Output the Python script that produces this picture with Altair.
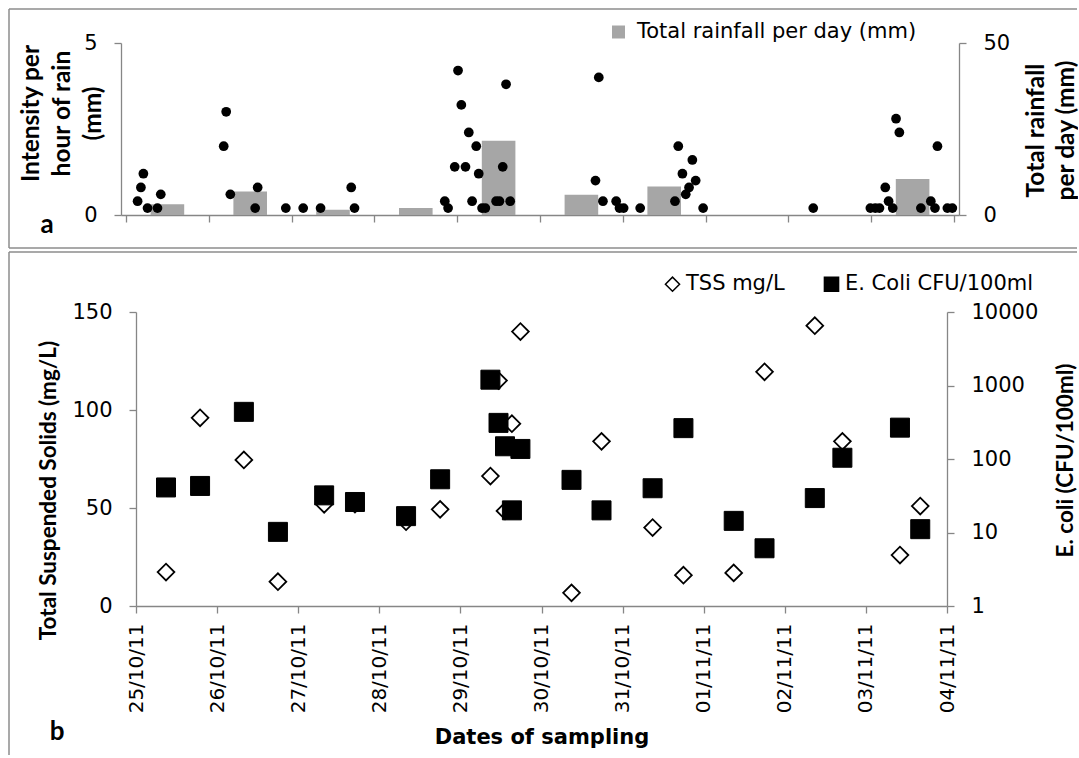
import json
import altair as alt
import pandas as pd

# ---------------- data ----------------
day_ticks = list(range(11))  # days counted from 25/10/11 00:00
date_labels = ["25/10/11", "26/10/11", "27/10/11", "28/10/11", "29/10/11", "30/10/11",
               "31/10/11", "01/11/11", "02/11/11", "03/11/11", "04/11/11"]

# total rainfall per day (bars drawn at the middle of each day)
rain_days = [0, 1, 2, 3, 4, 5, 6, 7, 8, 9]
rain_total_mm = [3.1, 6.8, 1.5, 2.0, 21.6, 5.9, 8.3, 0.0, 0.0, 10.5]

# hourly rain intensity (time in days since 25/10/11 00:00)
rain_time = [0.14, 0.18, 0.21, 0.26, 0.38, 0.42, 1.18, 1.21, 1.26, 1.56, 1.59,
             1.93, 2.14, 2.35, 2.72, 2.76, 3.85, 3.89, 3.97, 4.01, 4.05, 4.10,
             4.14, 4.18, 4.23, 4.26, 4.30, 4.34, 4.47, 4.51, 4.55, 4.59, 4.64,
             5.67, 5.71, 5.76, 5.92, 5.96, 6.01, 6.21, 6.63, 6.67, 6.72, 6.76,
             6.80, 6.84, 6.88, 6.97, 8.30, 8.99, 9.05, 9.10, 9.17, 9.21, 9.26,
             9.30, 9.34, 9.60, 9.72, 9.77, 9.80, 9.92, 9.98]
rain_int = [0.4, 0.8, 1.2, 0.2, 0.2, 0.6, 2.0, 3.0, 0.6, 0.2, 0.8,
            0.2, 0.2, 0.2, 0.8, 0.2, 0.4, 0.2, 1.4, 4.2, 3.2, 1.4,
            2.4, 0.4, 2.0, 1.2, 0.2, 0.2, 0.4, 0.4, 1.4, 3.8, 0.4,
            1.0, 4.0, 0.4, 0.4, 0.2, 0.2, 0.2, 0.4, 2.0, 1.2, 0.6,
            0.8, 1.6, 1.0, 0.2, 0.2, 0.2, 0.2, 0.2, 0.8, 0.4, 0.2,
            2.8, 2.4, 0.2, 0.4, 0.2, 2.0, 0.2, 0.2]

# water samples
sample_time = [0.37, 0.79, 1.33, 1.75, 2.32, 2.70, 3.33, 3.75, 4.37, 4.47, 4.55,
               4.635, 4.74, 5.37, 5.74, 6.37, 6.75, 7.37, 7.75, 8.37, 8.71, 9.42, 9.67]
tss_mgL = [17.3, 96, 74.5, 12.4, 51.9, 52, 43, 49.3, 66.3, 115, 48.5,
           93, 140, 6.7, 84, 40, 15.7, 16.9, 119.5, 143, 84, 26, 51]
ecoli_cfu = [41, 43, 438, 10.2, 32, 26, 16.7, 53, 1200, 310, 149,
             20, 137, 52, 20, 40, 263, 14.4, 6.1, 29.4, 104, 267, 11.1]

LEG_RAIN = "Total rainfall per day (mm)"
LEG_TSS = "TSS mg/L"
LEG_EC = "E. Coli CFU/100ml"

# ---------------- style ----------------
FONT = "DejaVu Sans"
TFONT = "Lato"
TSIZE_A = 24.5
TSIZE_B = 22.5
AX = "#868686"
BORDER = "#8c8c8c"
BAR = "#a6a6a6"
W1, H1 = 838, 172
W2, H2 = 826, 294

df_bar = pd.DataFrame({"t": [d + 0.5 for d in rain_days], "total": rain_total_mm, "series": LEG_RAIN})
df_dot = pd.DataFrame({"t": rain_time, "i": rain_int})
df_tss = pd.DataFrame({"t": sample_time, "v": tss_mgL, "series": LEG_TSS})
df_ec = pd.DataFrame({"t": sample_time, "v": ecoli_cfu, "series": LEG_EC})
one = pd.DataFrame({"k": [0]})


def hrule(y, x1, x2):
    return alt.Chart(one).mark_rule(color=BORDER, strokeWidth=1.5).encode(
        x=alt.value(x1), x2=alt.value(x2), y=alt.value(y))


def vrule(x, y1, y2):
    return alt.Chart(one).mark_rule(color=BORDER, strokeWidth=1.5).encode(
        x=alt.value(x), y=alt.value(y1), y2=alt.value(y2))


def label(txt, x, y):
    return alt.Chart(one).mark_text(text=txt, font=TFONT, fontSize=26, fontWeight="bold",
                                    align="center", baseline="alphabetic").encode(
        x=alt.value(x), y=alt.value(y))


# ---------------- panel a ----------------
x_top = alt.X("t:Q", scale=alt.Scale(domain=[0, 10], nice=False, zero=False),
              axis=alt.Axis(values=day_ticks, labels=False, title=None, grid=False, tickSize=7))

bars = alt.Chart(df_bar).mark_bar(size=33.6).encode(
    x=x_top,
    y=alt.Y("total:Q", scale=alt.Scale(domain=[0, 50], nice=False),
            axis=alt.Axis(orient="right", values=[0, 50], grid=False, tickSize=7, labelPadding=17,
                          title=["Total rainfall", "per day (mm)"], titleAngle=270,
                          titleBaseline="alphabetic", titleAlign="center", titleX=84, titleY=87,
                          titleLineHeight=30, titleFont=TFONT, titleFontSize=TSIZE_A,
                          titleFontWeight="bold")),
    color=alt.Color("series:N", scale=alt.Scale(domain=[LEG_RAIN], range=[BAR]),
                    legend=alt.Legend(title=None, orient="none", legendX=487, legendY=-21.5,
                                      symbolType="square", symbolSize=169, symbolStrokeWidth=0,
                                      labelFontSize=21, labelFont=FONT, labelOffset=8,
                                      labelLimit=0, padding=0)),
)

dots = alt.Chart(df_dot).mark_circle(size=95, color="black", opacity=1).encode(
    x=alt.X("t:Q"),
    y=alt.Y("i:Q", scale=alt.Scale(domain=[0, 5], nice=False),
            axis=alt.Axis(orient="left", values=[0, 5], grid=False, tickSize=7, labelPadding=17,
                          title=["Intensity per", "hour of rain", "(mm)"], titleAngle=270,
                          titleBaseline="alphabetic", titleAlign="center", titleX=-83, titleY=70,
                          titleLineHeight=31, titleFont=TFONT, titleFontSize=TSIZE_A,
                          titleFontWeight="bold")),
)

top = alt.layer(
    hrule(-34, -112, 956), vrule(-112, -34, 205), hrule(205, -112, 956),
    bars, dots, label("a", -74, 190),
).resolve_scale(y="independent").properties(width=W1, height=H1)

# ---------------- panel b ----------------
label_expr = json.dumps(date_labels) + "[datum.value]"
x_bot = alt.X("t:Q", scale=alt.Scale(domain=[0, 10], range=[15, W2], nice=False, zero=False),
              axis=alt.Axis(values=day_ticks, labelExpr=label_expr, labelAngle=270,
                            labelAlign="right", labelBaseline="middle", labelPadding=10,
                            labelFontSize=20, tickSize=7, grid=False, labelOverlap=False,
                            labelFlush=False, title="Dates of sampling", titleFont=FONT,
                            titleFontSize=21, titleFontWeight="bold",
                            titleBaseline="alphabetic", titleY=137))

series_dom = [LEG_TSS, LEG_EC]
shape_scale = alt.Scale(domain=series_dom, range=["diamond", "square"])
fill_scale = alt.Scale(domain=series_dom, range=["white", "black"])
stroke_scale = alt.Scale(domain=series_dom, range=["black", "black"])
# legends are placed by Vega-Lite at the top level: coordinates relative to panel a's plot origin
leg_b = alt.Legend(title=None, orient="none", legendX=541, legendY=230.5, direction="horizontal",
                   symbolSize=200, symbolStrokeWidth=1.5,
                   labelFontSize=21, labelFont=FONT, labelOffset=3, columnPadding=36,
                   labelLimit=0, padding=0)

tss_layer = alt.Chart(df_tss).mark_point(size=280, strokeWidth=1.8, opacity=1).encode(
    x=x_bot,
    y=alt.Y("v:Q", scale=alt.Scale(domain=[0, 150], nice=False),
            axis=alt.Axis(orient="left", offset=-15, values=[0, 50, 100, 150], grid=False,
                          tickSize=7, labelPadding=17, title="Total Suspended Solids (mg/L)",
                          titleAngle=270, titleBaseline="alphabetic", titleAlign="center",
                          titleX=-81, titleY=178, titleFont=TFONT, titleFontSize=TSIZE_B,
                          titleFontWeight="bold")),
    fill=alt.Fill("series:N", scale=fill_scale, legend=leg_b),
    shape=alt.Shape("series:N", scale=shape_scale, legend=leg_b),
    stroke=alt.Stroke("series:N", scale=stroke_scale, legend=leg_b),
)

ec_layer = alt.Chart(df_ec).mark_point(size=361, strokeWidth=1, opacity=1).encode(
    x=alt.X("t:Q"),
    y=alt.Y("v:Q", scale=alt.Scale(type="log", domain=[1, 10000], nice=False),
            axis=alt.Axis(orient="right", values=[1, 10, 100, 1000, 10000], format="d",
                          grid=False, tickSize=7, labelPadding=17, title="E. coli (CFU/100ml)",
                          titleAngle=270, titleBaseline="alphabetic", titleAlign="center",
                          titleX=125, titleY=148, titleFont=TFONT, titleFontSize=TSIZE_B,
                          titleFontWeight="bold")),
    fill=alt.Fill("series:N", scale=fill_scale, legend=leg_b),
    shape=alt.Shape("series:N", scale=shape_scale, legend=leg_b),
    stroke=alt.Stroke("series:N", scale=stroke_scale, legend=leg_b),
)

bottom = alt.layer(
    hrule(-60, -112, 956), vrule(-112, -60, 443),
    tss_layer, ec_layer, label("b", -64, 428),
).resolve_scale(y="independent").properties(width=W2, height=H2)

chart = alt.vconcat(top, bottom, spacing=97, bounds="flush").properties(
    padding={"left": 8, "top": 8, "right": 0, "bottom": 0}
).configure(font=FONT).configure_view(strokeWidth=0).configure_axis(
    labelFont=FONT, labelFontSize=21, labelColor="black", domainColor=AX, tickColor=AX,
    domainWidth=1.3, tickWidth=1.3, titleColor="black"
)

chart.save("out.html", embed_options={"renderer": "svg", "actions": False})
